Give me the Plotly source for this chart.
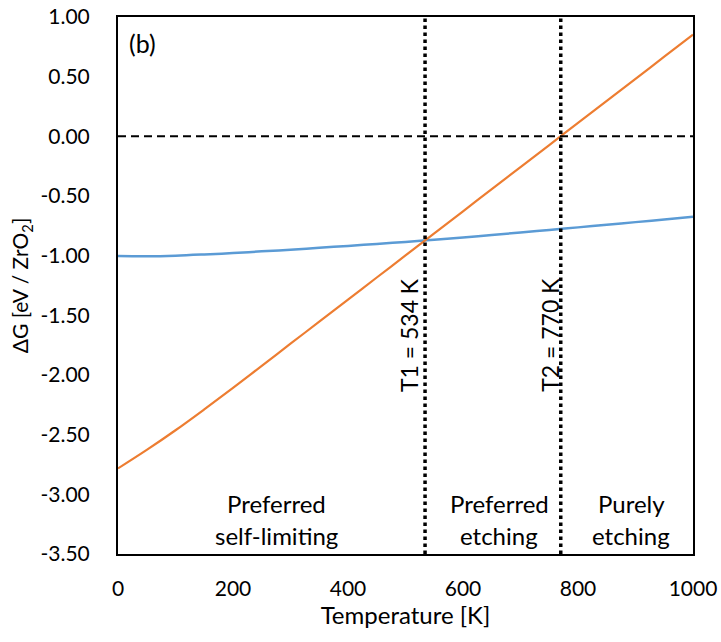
import plotly.graph_objects as go

# Gibbs free energy change vs temperature for the two reaction pathways
temperature = [0, 50, 100, 150, 200, 250, 300, 350, 400, 450, 500,
               550, 600, 650, 700, 750, 800, 850, 900, 950, 1000]
dg_self_limiting = [-1.003, -1.005, -1.000, -0.990, -0.978, -0.964, -0.950, -0.934, -0.918,
                    -0.902, -0.885, -0.867, -0.847, -0.827, -0.806, -0.785, -0.763, -0.741,
                    -0.719, -0.697, -0.674]
dg_etching = [-2.783, -2.628, -2.463, -2.288, -2.108, -1.923, -1.738, -1.553, -1.368,
              -1.183, -0.998, -0.813, -0.628, -0.443, -0.258, -0.073, 0.112, 0.297,
              0.482, 0.667, 0.852]

# Transition temperatures
t1_value = 534
t2_value = 770

x_tick_vals = [0, 200, 400, 600, 800, 1000]
y_tick_vals = [1.0, 0.5, 0.0, -0.5, -1.0, -1.5, -2.0, -2.5, -3.0, -3.5]
y_tick_text = ["1.00", "0.50", "0.00", "-0.50", "-1.00", "-1.50", "-2.00", "-2.50", "-3.00", "-3.50"]

FONT = "Lato"
TICK_FS = 21
TEXT_FS = 24

fig = go.Figure()

fig.add_trace(go.Scatter(x=temperature, y=dg_self_limiting, mode="lines",
                         line=dict(color="#5B9BD5", width=2.5, shape="spline"),
                         showlegend=False))
fig.add_trace(go.Scatter(x=temperature, y=dg_etching, mode="lines",
                         line=dict(color="#ED7D31", width=2.2, shape="spline"),
                         showlegend=False))

# Zero reference line
fig.add_shape(type="line", xref="x", yref="y", x0=0, x1=1000, y0=0, y1=0,
              line=dict(color="black", width=2, dash="8px,5px"))

# Transition temperature markers
for t in (t1_value, t2_value):
    fig.add_shape(type="line", xref="x", yref="paper", x0=t, x1=t, y0=0, y1=1,
                  line=dict(color="black", width=3.5, dash="3.5px,3.5px"))

annotations = [
    dict(x=15.6, y=0.785, text="(b)", xanchor="left", yanchor="middle", size=25),
    dict(x=t1_value, y=-1.665, text="T1 = 534 K", textangle=-90, xshift=-16,
         xanchor="center", yanchor="middle", size=23),
    dict(x=t2_value, y=-1.665, text="T2 = 770 K", textangle=-90, xshift=-11,
         xanchor="center", yanchor="middle", size=23),
    dict(x=276, y=-3.077, text="Preferred"),
    dict(x=276, y=-3.342, text="self-limiting"),
    dict(x=663, y=-3.077, text="Preferred"),
    dict(x=663, y=-3.342, text="etching"),
    dict(x=893, y=-3.077, text="Purely"),
    dict(x=893, y=-3.342, text="etching"),
]
for a in annotations:
    size = a.pop("size", TEXT_FS)
    a["font"] = dict(family=FONT, size=size, color="black")
    a["showarrow"] = False
    fig.add_annotation(**a)

fig.update_layout(
    width=721, height=642,
    margin=dict(l=118, r=28, t=17, b=88),
    paper_bgcolor="white", plot_bgcolor="white",
    font=dict(family=FONT, size=TICK_FS, color="black"),
    showlegend=False,
)
fig.update_xaxes(
    range=[0, 1000], tickvals=x_tick_vals, ticks="", showgrid=False, zeroline=False,
    showline=True, mirror=True, linecolor="black", linewidth=2,
    ticklabelstandoff=15, automargin=False,
    tickfont=dict(family=FONT, size=TICK_FS, color="black"),
    title=dict(text="Temperature [K]", font=dict(family=FONT, size=TEXT_FS, color="black"),
               standoff=6),
)
fig.update_yaxes(
    range=[-3.5, 1.0], tickvals=y_tick_vals, ticktext=y_tick_text, ticks="",
    showgrid=False, zeroline=False,
    showline=True, mirror=True, linecolor="black", linewidth=2,
    ticklabelstandoff=22, automargin=False,
    tickfont=dict(family=FONT, size=TICK_FS, color="black"),
    title=dict(text="ΔG [eV / ZrO<sub>2</sub>]", font=dict(family=FONT, size=21, color="black"),
               standoff=6),
)

fig.write_html("out.html")
